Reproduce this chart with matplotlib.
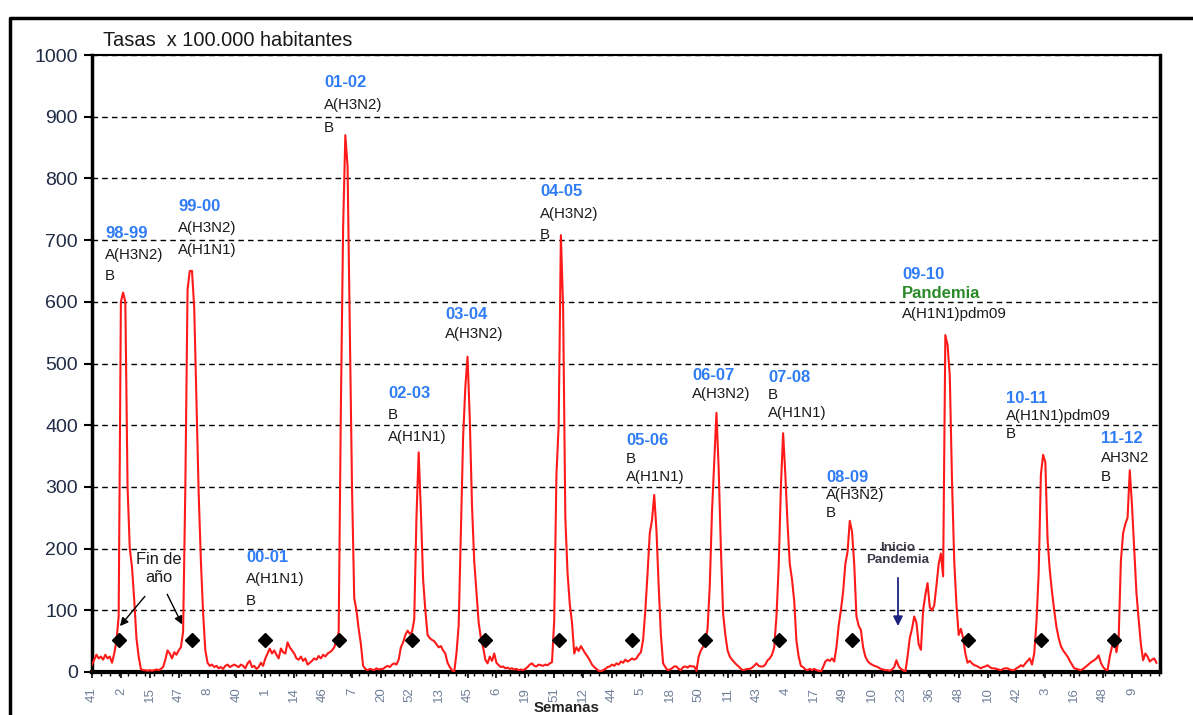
import matplotlib.pyplot as plt
from matplotlib.lines import Line2D
from matplotlib.ticker import FixedLocator, MultipleLocator

plt.rcParams['font.family'] = ['Liberation Sans', 'DejaVu Sans']

# seasons and the weeks each one covers (08-09 runs on into the pandemic summer)
seasons = ["98-99", "99-00", "00-01", "01-02", "02-03", "03-04", "04-05",
           "05-06", "06-07", "07-08", "08-09", "09-10", "10-11", "11-12"]
first_week = [41, 40, 40, 40, 40, 40, 40, 40, 40, 40, 40, 40, 40, 40]
last_week = [20, 20, 20, 20, 20, 20, 20, 20, 20, 20, 39, 20, 20, 20]

# weekly rates x 100.000
r9899 = [12, 20, 28, 22, 25, 20, 28, 22, 25, 15, 30, 50, 90, 600, 615, 600,
         300, 200, 170, 117, 55, 25, 5, 3, 3, 2, 3, 2, 3, 4, 3, 5]
r9900 = [8, 20, 35, 30, 22, 32, 28, 35, 40, 65, 300, 620, 650, 650, 590, 440,
         290, 180, 95, 35, 15, 10, 12, 8, 10, 6, 8, 5, 10, 12, 8, 10, 12]
r0001 = [10, 8, 12, 10, 6, 14, 18, 8, 10, 5, 8, 15, 10, 22, 30, 38, 30, 35,
         28, 22, 38, 32, 30, 48, 40, 35, 30, 22, 20, 25, 18, 22, 12]
r0102 = [15, 18, 22, 20, 26, 22, 28, 25, 30, 32, 35, 40, 50, 65, 430, 720,
         870, 820, 560, 300, 120, 100, 70, 45, 10, 5, 3, 5, 4, 3, 6, 4, 5]
r0203 = [5, 8, 10, 8, 12, 14, 12, 20, 40, 48, 60, 67, 62, 65, 85, 250, 356,
         260, 150, 100, 60, 55, 52, 50, 45, 40, 42, 35, 30, 15, 8, 3, 0]
r0304 = [30, 75, 230, 380, 462, 511, 410, 270, 180, 130, 80, 55, 40, 20, 14,
         25, 18, 30, 15, 11, 8, 9, 6, 7, 5, 6, 4, 5, 3, 4, 3, 5, 8]
r0405 = [12, 14, 10, 9, 12, 11, 10, 12, 11, 14, 16, 84, 320, 400, 708, 590,
         250, 160, 110, 80, 30, 40, 34, 42, 36, 30, 25, 19, 12, 8, 5, 2, 1]
r0506 = [3, 5, 8, 9, 12, 10, 14, 12, 17, 15, 20, 17, 19, 22, 20, 22, 28, 32,
         52, 100, 160, 225, 246, 287, 230, 140, 60, 14, 8, 3, 4, 6, 9]
r0607 = [9, 5, 3, 8, 9, 7, 10, 9, 9, 2, 25, 35, 41, 50, 70, 140, 260, 340,
         420, 330, 200, 95, 60, 35, 25, 20, 16, 12, 9, 5, 3, 4, 5]
r0708 = [5, 7, 10, 14, 10, 9, 9, 12, 19, 22, 28, 40, 90, 170, 300, 387, 320,
         240, 175, 150, 115, 50, 25, 10, 8, 4, 3, 5, 3, 5, 3, 2, 0]
r0809 = [8, 17, 20, 18, 22, 17, 40, 75, 100, 130, 175, 195, 245, 228, 175,
         90, 75, 68, 40, 25, 18, 14, 12, 10, 9, 7, 5, 4, 3, 3, 2, 4, 8,
         19, 9, 5, 3, 0, 25, 55, 70, 90, 80, 45, 36, 100, 125, 144, 105, 100,
         108, 140]
r0910 = [175, 192, 155, 546, 530, 480, 310, 180, 110, 60, 70, 55, 30, 15, 18,
         14, 11, 10, 8, 6, 8, 9, 11, 8, 6, 6, 5, 4, 3, 5, 6, 6, 4]
r1011 = [3, 3, 6, 8, 11, 9, 14, 18, 22, 12, 30, 80, 160, 320, 352, 340, 215,
         165, 130, 100, 73, 55, 42, 35, 30, 25, 18, 12, 6, 5, 4, 3, 5]
r1112 = [8, 11, 14, 17, 19, 22, 27, 15, 8, 4, 3, 25, 41, 52, 32, 55, 180, 225,
         240, 250, 327, 270, 200, 128, 85, 45, 19, 30, 25, 17, 20, 22, 15]
season_rates = [r9899, r9900, r0001, r0102, r0203, r0304, r0405,
                r0506, r0607, r0708, r0809, r0910, r1011, r1112]

# x tick labels as printed (one every 13 weeks)
tick_labels = ["41", "2", "15", "47", "8", "40", "1", "14", "46", "7", "20",
               "52", "13", "45", "6", "19", "51", "12", "44", "5", "18", "50",
               "11", "43", "4", "17", "49", "10", "23", "36", "48", "10",
               "42", "3", "16", "48", "9"]
year_end_level = 52   # height of the "fin de año" diamonds

weeks, rates = [], []
for fw, lw, vals in zip(first_week, last_week, season_rates):
    wk = list(range(fw, 53)) + list(range(1, lw + 1))
    assert len(wk) == len(vals), (fw, len(wk), len(vals))
    weeks += wk
    rates += vals
idx = list(range(len(rates)))
new_year = [i for i, w in zip(idx, weeks) if w == 1]

BLUE = '#2f7cf6'
GREEN = '#2a8a2a'
INK = '#1a1a1a'

# season notes: x, y of first line, line step, lines
notes = [
    (5.9, 710, 34, [("98-99", 's'), ("A(H3N2)", 'v'), ("B", 'v')]),
    (38.7, 754, 35, [("99-00", 's'), ("A(H3N2)", 'v'), ("A(H1N1)", 'v')]),
    (69.3, 185, 35, [("00-01", 's'), ("A(H1N1)", 'v'), ("B", 'v')]),
    (104.4, 956, 37, [("01-02", 's'), ("A(H3N2)", 'v'), ("B", 'v')]),
    (133.2, 451, 35, [("02-03", 's'), ("B", 'v'), ("A(H1N1)", 'v')]),
    (158.9, 579, 31, [("03-04", 's'), ("A(H3N2)", 'v')]),
    (201.6, 778, 35, [("04-05", 's'), ("A(H3N2)", 'v'), ("B", 'v')]),
    (240.3, 376, 30, [("05-06", 's'), ("B", 'v'), ("A(H1N1)", 'v')]),
    (270.0, 480, 29, [("06-07", 's'), ("A(H3N2)", 'v')]),
    (304.2, 478, 29, [("07-08", 's'), ("B", 'v'), ("A(H1N1)", 'v')]),
    (330.4, 316, 29, [("08-09", 's'), ("A(H3N2)", 'v'), ("B", 'v')]),
    (364.5, 645, 32, [("09-10", 's'), ("Pandemia", 'p'), ("A(H1N1)pdm09", 'v')]),
    (411.3, 444, 29, [("10-11", 's'), ("A(H1N1)pdm09", 'v'), ("B", 'v')]),
    (454.1, 378, 31, [("11-12", 's'), ("AH3N2", 'v'), ("B", 'v')]),
]
styles = {'s': dict(color=BLUE, fontweight='bold', fontsize=12),
          'p': dict(color=GREEN, fontweight='bold', fontsize=12),
          'v': dict(color=INK, fontsize=10.8)}

fig = plt.figure(figsize=(11.93, 7.15), dpi=100)
ax = fig.add_axes([92 / 1193, 1 - 672 / 715, (1160 - 92) / 1193, (672 - 55) / 715])

ax.plot(idx, rates, color='#ff1a1a', lw=1.5, zorder=3)
ax.plot(new_year, [year_end_level] * len(new_year), 'D', color='black',
        ms=7.5, zorder=4)

ax.set_xlim(0, 480.6)
ax.set_ylim(0, 1000)
ax.set_yticks(range(0, 1001, 100))
ax.tick_params(axis='y', labelsize=14, labelcolor='#1f2a44', length=6,
               width=1.5, pad=4)
ax.xaxis.set_major_locator(FixedLocator(idx[::13][:len(tick_labels)]))
ax.set_xticklabels(tick_labels, rotation=90)
ax.xaxis.set_minor_locator(MultipleLocator(4))
ax.tick_params(axis='x', which='major', labelsize=9.5, labelcolor='#6f7f99',
               length=4, width=1.2, pad=7)
ax.tick_params(axis='x', which='minor', length=3, width=1)

ax.yaxis.grid(True, linestyle=(0, (4, 3)), color='black', lw=1)
ax.set_axisbelow(True)
ax.spines['left'].set_linewidth(2.5)
ax.spines['bottom'].set_linewidth(3)
ax.spines['right'].set_linewidth(2.5)
ax.spines['top'].set_linewidth(1.5)

ax.text(0.01, 1.008, "Tasas  x 100.000 habitantes", transform=ax.transAxes,
        fontsize=14.4, color=INK, ha='left', va='bottom')
fig.text(567 / 1193, 1 - 708 / 715, "Semanas", fontsize=10.8,
         fontweight='bold', color='#222222', ha='center', va='center')

for x0, y0, step, lines in notes:
    for k, (txt, st) in enumerate(lines):
        ax.text(x0, y0 - k * step, txt, ha='left', va='center', **styles[st])

ax.text(30.2, 168, "Fin de\naño", ha='center', va='center', fontsize=11.8,
        color=INK, linespacing=1.25)
arrow_k = dict(arrowstyle='-|>', color='black', lw=1, mutation_scale=12)
ax.annotate("", xy=(11.8, 71), xytext=(24.6, 126), arrowprops=arrow_k)
ax.annotate("", xy=(41.1, 73), xytext=(33.3, 130), arrowprops=arrow_k)

ax.text(362.7, 191, "Inicio\nPandemia", ha='center', va='center',
        fontsize=9.6, fontweight='bold', color='#3a3a4a', linespacing=1.05)
ax.annotate("", xy=(362.7, 70), xytext=(362.7, 157),
            arrowprops=dict(arrowstyle='-|>', color='#1a237e', lw=1.3,
                            mutation_scale=14))

# outer frame of the page figure
fig.add_artist(Line2D([10 / 1193, 10 / 1193, 1.0], [0, 1 - 18 / 715, 1 - 18 / 715],
                      transform=fig.transFigure, color='black', lw=2.5))

fig.savefig("out.png", dpi=100)
